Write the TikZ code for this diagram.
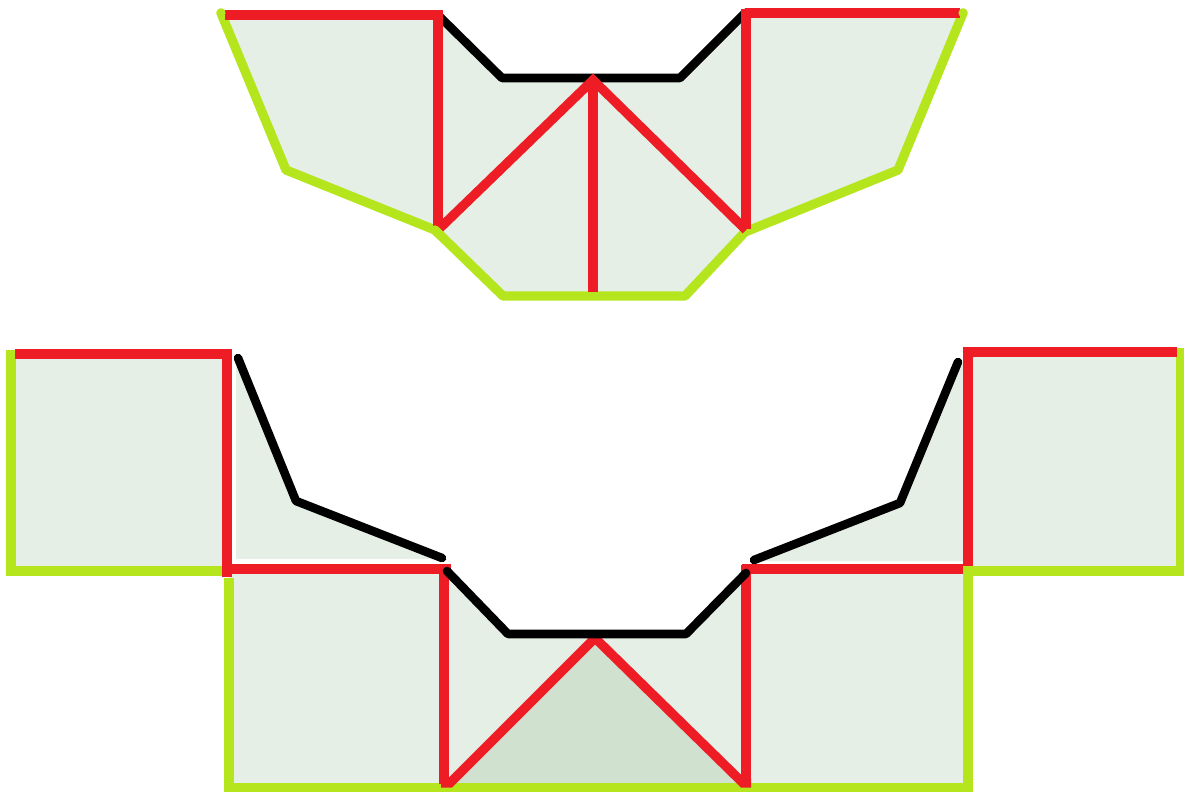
\documentclass[tikz,border=0pt]{standalone}
\definecolor{paleg}{HTML}{E5EFE6}
\definecolor{darkg}{HTML}{D0E1D0}
\definecolor{redl}{HTML}{EE1C25}
\definecolor{limel}{HTML}{B5E61D}
\tikzset{
  redline/.style={draw=redl,line width=9.3pt,line cap=butt,line join=miter},
  limeline/.style={draw=limel,line width=9.3pt,line cap=round,line join=round},
  limesquare/.style={draw=limel,line width=9.3pt,line cap=butt,line join=miter},
  blackline/.style={draw=black,line width=8.6pt,line cap=round,line join=round},
}
\begin{document}
\begin{tikzpicture}[x=1pt,y=-1pt]
\useasboundingbox (0,0) rectangle (1184,792);
% --- top figure fills
\fill[paleg] (221,14) -- (438,14) -- (502,78) -- (680,78) -- (745,14) -- (963,14) -- (898,170) -- (745,232) -- (685,296) -- (503,296) -- (435,230) -- (286,170) -- cycle;
% --- bottom figure fills
\fill[paleg] (11,353) rectangle (227,571);
\fill[paleg] (236,360) -- (296,501) -- (442,559) -- (236,559) -- cycle;
\fill[paleg] (229,569) rectangle (968,788);
\fill[white] (447,569) -- (508,634) -- (686,634) -- (746,569) -- cycle;
\fill[paleg] (968,352) rectangle (1181,571);
\fill[paleg] (752,561) -- (900,503) -- (958,361) -- (965,361) -- (965,561) -- cycle;
\fill[darkg] (450,785) -- (595,638) -- (746,785) -- cycle;
% --- top figure lines
\draw[limeline] (221,13) -- (286,170) -- (435,230) -- (503,296) -- (685,296) -- (745,232) -- (898,170) -- (963,13);
\draw[blackline] (438,15) -- (502,78) -- (680,78) -- (745,13);
\draw[redline] (225,15) -- (438,15) -- (438,228);
\draw[redline] (745,13) -- (960,13);
\draw[redline] (746,9) -- (746,229);
\draw[redline] (438,230) -- (593,80) -- (746,230);
\draw[redline] (593,78) -- (593,292);
\fill[limel] (221,13) circle (4.6pt);
\fill[limel] (963,13) circle (4.6pt);
\draw[limeline] (435,230) -- (441,236);
% --- bottom figure lines
\draw[limesquare] (11,350) -- (11,571) -- (223,571);
\draw[limesquare] (229,578) -- (229,788) -- (968,788) -- (968,571);
\draw[limesquare] (968,571) -- (1184,571);
\draw[limesquare] (1181,348) -- (1181,575);
\draw[redline] (15,354) -- (227,354) -- (227,577);
\draw[redline] (227,569) -- (451,569);
\draw[redline] (444,569) -- (444,784);
\draw[redline] (441,783) -- (450,783) -- (595,638) -- (743,783) -- (751,783);
\draw[redline] (746,565) -- (746,784);
\draw[redline] (742,569) -- (968,569);
\draw[redline] (968,569) -- (968,352) -- (1177,352);
\draw[limesquare] (968,566) -- (968,575);
\draw[blackline] (238,358) -- (296,501) -- (442,558);
\draw[blackline] (447,571) -- (508,634) -- (686,634) -- (746,573);
\draw[blackline] (754,560) -- (900,503) -- (958,362);
\end{tikzpicture}
\end{document}
